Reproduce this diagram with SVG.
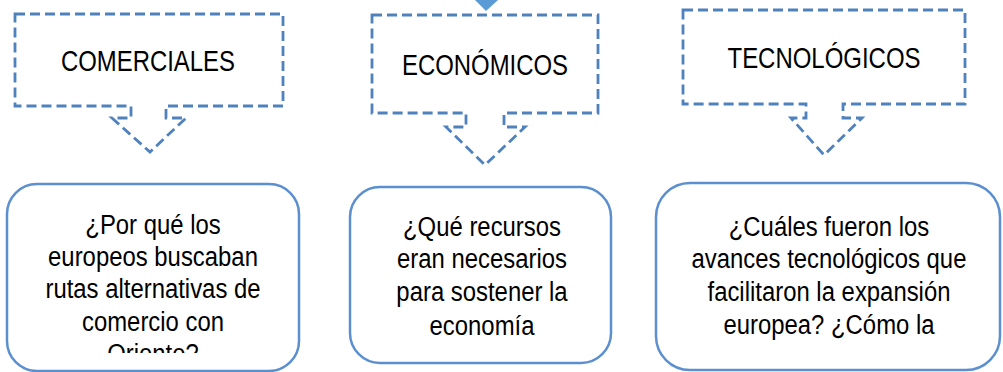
<svg xmlns="http://www.w3.org/2000/svg" width="1003" height="372" viewBox="0 0 1003 372">
<style>
.callout{fill:#fff;stroke:#4F81BD;stroke-width:2.8;stroke-dasharray:10 5;stroke-linejoin:miter}
.box{fill:#fff;stroke:#5B8FD0;stroke-width:2.5}
.lbl{font-family:"Liberation Sans",Arial,sans-serif;font-size:29px;fill:#000;text-anchor:middle}
.q{font-family:"Liberation Sans",Arial,sans-serif;font-size:27px;fill:#000;text-anchor:middle}
</style>
<defs>
<clipPath id="clip1"><rect x="7" y="184" width="292" height="169"/></clipPath>
</defs>
<rect width="1003" height="372" fill="#fff"/>
<g id="connectors">
<polygon points="475,0 498,0 486,11" fill="#5B9BD5"/>
</g>
<g id="comerciales">
<path class="callout" d="M15,14 H283 V106 H166 V118 H186 L150,152 L112,118 H131 V106 H15 Z"/>
<text class="lbl" x="148" y="71" textLength="174" lengthAdjust="spacingAndGlyphs">COMERCIALES</text>
</g>
<g id="economicos">
<path class="callout" d="M372,15 H598 V113 H504 V127 H525 L485,165 L446,127 H466 V113 H372 Z"/>
<text class="lbl" x="485" y="75" textLength="166" lengthAdjust="spacingAndGlyphs">ECONÓMICOS</text>
</g>
<g id="tecnologicos">
<path class="callout" d="M683,10 H965 V104 H843 V118 H862 L824,155 L791,118 H806 V104 H683 Z"/>
<text class="lbl" x="824" y="68" textLength="193" lengthAdjust="spacingAndGlyphs">TECNOLÓGICOS</text>
</g>
<g id="pregunta-comerciales">
<rect class="box" x="7" y="184" width="292" height="187" rx="30" ry="30"/>
<g clip-path="url(#clip1)">
<g transform="translate(153 0) scale(0.885 1)">
<text class="q" x="0" y="234">¿Por qué los</text>
<text class="q" x="0" y="266">europeos buscaban</text>
<text class="q" x="0" y="298.5">rutas alternativas de</text>
<text class="q" x="0" y="331">comercio con</text>
<text class="q" x="0" y="363.5">Oriente?</text>
</g>
</g>
</g>
<g id="pregunta-economicos">
<rect class="box" x="350" y="187" width="261" height="176" rx="30" ry="30"/>
<g transform="translate(482 0) scale(0.885 1)">
<text class="q" x="0" y="236.5">¿Qué recursos</text>
<text class="q" x="0" y="268.5">eran necesarios</text>
<text class="q" x="0" y="301.5">para sostener la</text>
<text class="q" x="0" y="335">economía</text>
</g>
</g>
<g id="pregunta-tecnologicos">
<rect class="box" x="656" y="183" width="344" height="187" rx="34" ry="34"/>
<g transform="translate(829 0) scale(0.885 1)">
<text class="q" x="0" y="236">¿Cuáles fueron los</text>
<text class="q" x="0" y="268">avances tecnológicos que</text>
<text class="q" x="0" y="301.5">facilitaron la expansión</text>
<text class="q" x="0" y="334">europea? ¿Cómo la</text>
</g>
</g>
</svg>
